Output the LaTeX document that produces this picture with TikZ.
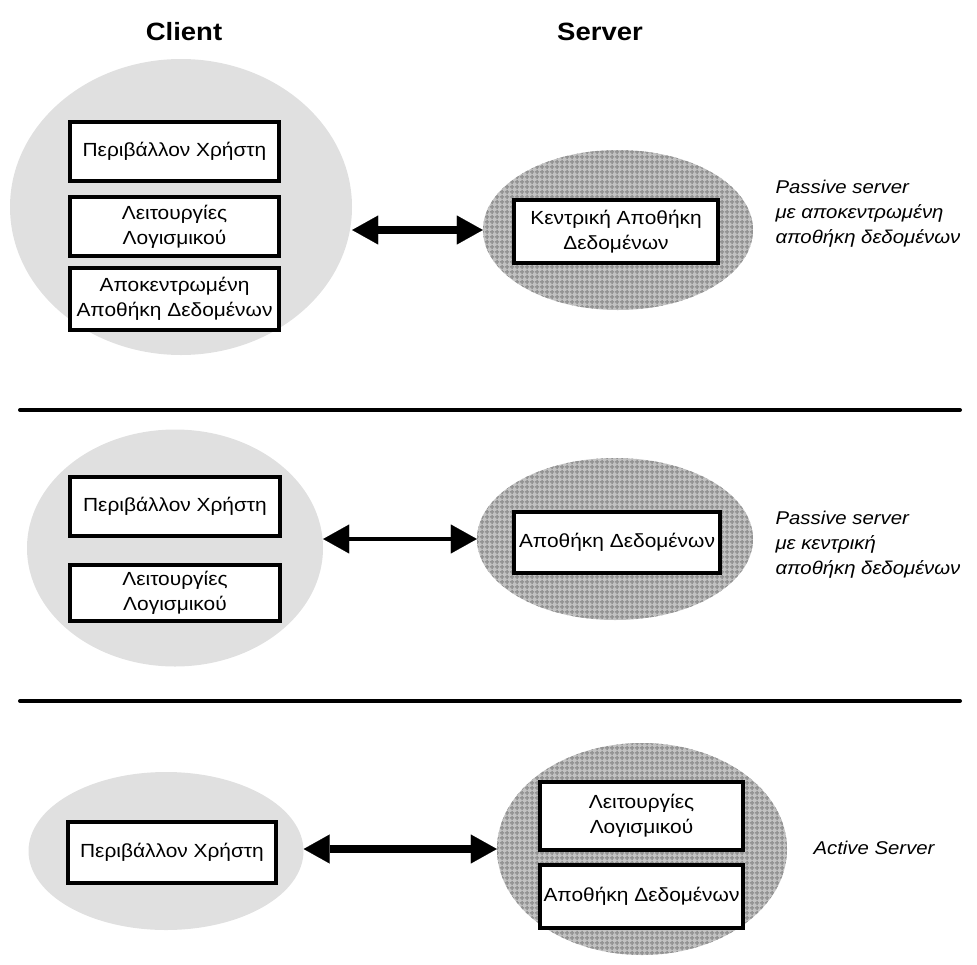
\documentclass[tikz,border=0pt]{standalone}
\usepackage{fontspec}
\setmainfont[FakeStretch=1.1]{Liberation Sans}
\usetikzlibrary{shapes.geometric,arrows.meta,patterns.meta}

% checkered fill of the server side
\tikzdeclarepattern{
  name=srvgrid,
  type=uncolored,
  bounding box={(0pt,0pt) and (5pt,5pt)},
  tile size={(5pt,5pt)},
  code={
    \draw[line width=1.8pt] (0pt,2.5pt) -- (5pt,2.5pt)
                            (2.5pt,0pt) -- (2.5pt,5pt);
  }
}

\tikzset{
  clientcloud/.style={ellipse, inner sep=0pt, fill=gray!24},
  servercloud/.style={ellipse, inner sep=0pt, preaction={fill=gray!48},
                      pattern=srvgrid, pattern color=gray!85},
  layerbox/.style={draw, line width=4pt, fill=white, align=center, inner sep=0pt,
                   font=\fontsize{19}{25}\selectfont},
  sidenote/.style={anchor=west, align=left, font=\fontsize{18.5}{25}\selectfont\itshape},
  coltitle/.style={font=\fontsize{25}{30}\selectfont\bfseries},
  biarrow/.style={{Triangle[length=26pt,width=29pt,line width=0.1pt]}-{Triangle[length=26pt,width=29pt,line width=0.1pt]},
                  line width=#1},
  biarrow/.default=8pt,
  sepline/.style={line width=4pt, line cap=round}
}

\begin{document}
\begin{tikzpicture}[x=1pt,y=-1pt]
\useasboundingbox (0,0) rectangle (977,964);

\node[coltitle] (client) at (184,32) {Client};
\node[coltitle] (server) at (600,32) {Server};

% --- passive server, decentralised store
\node[clientcloud, minimum width=342pt, minimum height=296pt] (c1) at (181,207) {};
\node[servercloud, minimum width=270pt, minimum height=160pt] (s1) at (618,230) {};
\node[layerbox, minimum width=209pt, minimum height=59pt] (ui1) at (174.5,151.5) {Περιβάλλον Χρήστη};
\node[layerbox, minimum width=209pt, minimum height=59pt] (sw1) at (174.5,226.5) {Λειτουργίες\\Λογισμικού};
\node[layerbox, minimum width=209pt, minimum height=62pt] (db1) at (174.5,299) {Αποκεντρωμένη\\Αποθήκη Δεδομένων};
\node[layerbox, minimum width=204pt, minimum height=63pt] (cdb1) at (616,231.5) {Κεντρική Αποθήκη\\Δεδομένων};
\node[sidenote] (n1) at (772,214) {Passive server\\με αποκεντρωμένη\\αποθήκη δεδομένων};
\draw[biarrow] (c1.east |- s1.west) -- (s1.west);

\draw[sepline] (20,410) -- (960,410);

% --- passive server, central store
\node[clientcloud, minimum width=296pt, minimum height=237pt] (c2) at (175,548) {};
\node[servercloud, minimum width=276pt, minimum height=162pt] (s2) at (615,539) {};
\node[layerbox, minimum width=210pt, minimum height=59pt] (ui2) at (175,506.5) {Περιβάλλον Χρήστη};
\node[layerbox, minimum width=210pt, minimum height=56pt] (sw2) at (175,593) {Λειτουργίες\\Λογισμικού};
\node[layerbox, minimum width=206pt, minimum height=61pt] (db2) at (617,542.5) {Αποθήκη Δεδομένων};
\node[sidenote] (n2) at (772,545) {Passive server\\με κεντρική\\αποθήκη δεδομένων};
\draw[biarrow=3.5pt] (c2.east |- s2.west) -- (s2.west);

\draw[sepline] (20,701) -- (960,701);

% --- active server
\node[clientcloud, minimum width=275pt, minimum height=158pt] (c3) at (166,851) {};
\node[servercloud, minimum width=290pt, minimum height=212pt] (s3) at (642,849) {};
\node[layerbox, minimum width=208pt, minimum height=61pt] (ui3) at (172,852.5) {Περιβάλλον Χρήστη};
\node[layerbox, minimum width=203pt, minimum height=68pt] (sw3) at (641.5,816) {Λειτουργίες\\Λογισμικού};
\node[layerbox, minimum width=203pt, minimum height=63pt] (db3) at (641.5,896.5) {Αποθήκη Δεδομένων};
\node[sidenote] (n3) at (810,848) {Active Server};
\draw[biarrow] (c3.east |- s3.west) -- (s3.west);
\end{tikzpicture}
\end{document}
